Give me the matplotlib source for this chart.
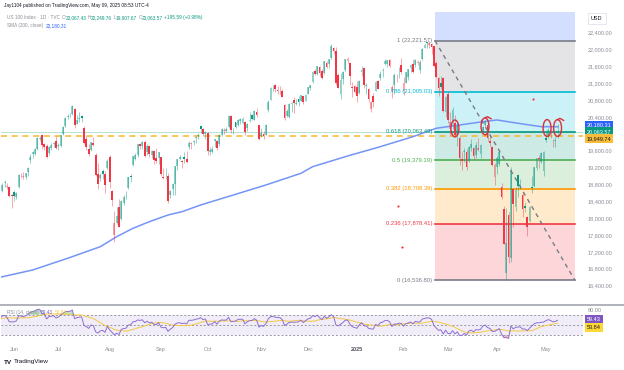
import numpy as np
import matplotlib.pyplot as plt
from matplotlib.patches import Ellipse
from matplotlib.lines import Line2D
from matplotlib import transforms

plt.rcParams['font.family'] = ['Liberation Sans', 'DejaVu Sans']

W, H = 624, 370

# ---------------- data (bar 0 = Jun 3 2024, first visible bar = May 23 2024) ----------------
first_bar = -6
month_ticks = [0, 19, 41, 63, 83, 106, 126, 147, 167, 186, 207, 228]
month_labels = ['Jun', 'Jul', 'Aug', 'Sep', 'Oct', 'Nov', 'Dec', '2025', 'Feb', 'Mar', 'Apr', 'May']

opens = [
    18830, 18650, 18850, 18760, 18750, 18560,
    18620, 18520, 18740, 19040, 18990, 18980, 19100, 19400, 19540, 19530, 19650, 19900, 19980, 19760, 19720, 19550, 19680, 19770, 19840,
    19730, 19720, 20000, 20200, 20410, 20460, 20480, 20600, 20250, 20370, 20430, 20150, 19880, 19660, 19640, 19800, 19520, 19050, 18960, 19120, 19070, 19200,
    19460, 18650, 17620, 17900, 18270, 18000, 18380, 18550, 18720, 19010, 19280, 19420, 19520, 19760, 19720, 19830, 19570, 19730, 19500, 19610, 19450, 19430,
    19460, 18990, 19000, 19020, 18560, 18700, 18830, 19250, 19420, 19360, 19460, 19420, 19700, 19760, 19820, 19920, 19960, 20190, 20120, 20000,
    20030, 19570, 19580, 19850, 19840, 19760, 19990, 20070, 20080, 20170, 20440, 20120, 20290, 20230, 20320, 20280, 20300, 20150, 20310, 20460, 20350, 20520, 20210,
    19970, 20000, 19990, 20570, 20820, 21120, 21170, 21060, 21020, 21040, 20700, 20430, 20400, 20720, 20810, 20720, 20830, 20790, 20900, 20800,
    20960, 21100, 21250, 21510, 21440, 21600, 21500, 21450, 21690, 21670, 21810, 22050, 21980, 21400, 20960, 21320, 21520, 21740, 21700, 21130, 21150,
    21120, 20990, 21470, 21580, 21140, 21080, 20600, 20900, 21040, 21270, 21340, 21500, 21680, 21680, 21770, 21000, 21170, 21400, 21500, 21650,
    21040, 21220, 21370, 21570, 21670, 21640, 21690, 21520, 21780, 22060, 22180, 22110, 22150, 22090, 21700, 21340, 21210, 21330, 20520,
    20960, 20130, 20300, 20270, 19990, 19920, 19420, 19570, 19590, 19360, 19680, 19670, 19520, 19620, 19530, 20050, 20220, 20230, 19850, 19700, 18990,
    19220, 19290, 18740, 18220, 16720, 18090, 17070, 18700, 18280, 19030, 18780, 18550, 18310, 18040, 17950, 18750, 18780, 19190, 19440, 19340, 19120,
    19920, 19930, 19990, 19800, 19850, 20067.43,
]
highs = [
    18910, 18840, 18910, 18850, 18760, 18580,
    18680, 18640, 19050, 19090, 19110, 19090, 19220, 19540, 19600, 19680, 19930, 19950, 20010, 19800, 19780, 19720, 19790, 19830, 19960,
    19800, 19980, 20190, 20400, 20480, 20500, 20690, 20620, 20450, 20520, 20450, 20200, 19960, 19770, 19830, 19940, 19560, 19320, 19090, 19180, 19130, 19420,
    19500, 18690, 18180, 18270, 18470, 18430, 18560, 18650, 18990, 19060, 19480, 19560, 19770, 19800, 19850, 19860, 19780, 19750, 19640, 19640, 19670, 19590,
    19470, 19190, 19200, 19080, 18690, 18840, 19260, 19420, 19510, 19390, 19580, 19610, 19840, 19820, 19870, 19960, 20020, 20220, 20150, 20070,
    20050, 19700, 19730, 19900, 19860, 20010, 20140, 20160, 20170, 20450, 20460, 20160, 20300, 20370, 20390, 20400, 20310, 20270, 20520, 20480, 20580, 20630, 20220,
    20150, 20090, 20250, 20810, 21120, 21170, 21190, 21150, 21150, 21080, 20720, 20600, 20750, 20760, 20890, 20840, 20900, 20930, 20920, 20950,
    21130, 21180, 21500, 21560, 21630, 21630, 21560, 21740, 21740, 21780, 22133, 22070, 22070, 21450, 21450, 21500, 21800, 21830, 21720, 21250, 21180,
    21270, 21300, 21620, 21600, 21230, 21100, 20790, 20970, 21270, 21300, 21500, 21570, 21800, 21770, 21790, 21180, 21460, 21440, 21600, 21810,
    21350, 21480, 21550, 21660, 21780, 21780, 21770, 21760, 22040, 22160, 22190, 22221.57, 22170, 22100, 21730, 21360, 21390, 21370, 20910,
    21030, 20520, 20650, 20450, 20270, 19960, 19580, 19680, 19650, 19720, 19900, 19690, 19830, 19910, 19780, 20200, 20350, 20270, 20000, 19730, 19320,
    19480, 19620, 18850, 18290, 18250, 18160, 19230, 18730, 18750, 19060, 18930, 18620, 18390, 18060, 18310, 19010, 19220, 19440, 19510, 19570, 19610,
    20050, 20140, 20100, 19900, 19950, 20249.76,
]
lows = [
    18520, 18620, 18760, 18700, 18510, 18250,
    18410, 18470, 18720, 18970, 18940, 18950, 19010, 19330, 19430, 19520, 19620, 19840, 19650, 19620, 19440, 19500, 19640, 19710, 19660,
    19620, 19700, 19990, 20170, 20370, 20400, 20460, 20160, 20240, 20290, 20300, 19780, 19620, 19480, 19600, 19720, 19020, 18700, 18890, 18950, 18600, 19170,
    18730, 18310, 17433, 17870, 17790, 17960, 18330, 18470, 18710, 18870, 19240, 19400, 19470, 19650, 19660, 19460, 19520, 19470, 19450, 19300, 19320, 19300,
    19020, 18930, 18930, 18380, 18480, 18560, 18550, 19160, 19390, 19210, 19310, 19310, 19650, 19660, 19750, 19800, 19900, 20030, 19960, 19900,
    19500, 19500, 19550, 19700, 19630, 19720, 19950, 20000, 20050, 20160, 20040, 20000, 20140, 20200, 20240, 20240, 19980, 20080, 20300, 20330, 20330, 20420, 19870,
    19930, 19880, 19990, 20530, 20810, 21040, 21010, 20960, 20960, 20880, 20330, 20400, 20380, 20540, 20500, 20690, 20680, 20780, 20710, 20790,
    20950, 21050, 21230, 21400, 21420, 21390, 21310, 21440, 21570, 21580, 21800, 21900, 21170, 21090, 20850, 21200, 21510, 21690, 21180, 20880, 20970,
    20770, 20960, 21390, 21090, 20950, 20760, 20540, 20640, 21020, 21070, 21280, 21370, 21640, 21600, 21590, 20860, 20960, 21250, 21330, 21430,
    20940, 21210, 21300, 21480, 21450, 21610, 21640, 21450, 21760, 22040, 22050, 22060, 21900, 21590, 21330, 20920, 21080, 20530, 20400,
    20280, 19950, 20130, 19970, 19730, 19280, 19150, 19350, 19150, 19340, 19610, 19390, 19450, 19600, 19440, 20040, 20180, 19840, 19720, 19250, 18800,
    19050, 19260, 18470, 17390, 16536.8, 16950, 16960, 17790, 18190, 18520, 18710, 18030, 18160, 17590, 17920, 18600, 18760, 19150, 19200, 19330, 19010,
    19830, 19910, 19910, 19700, 19700, 19907.67,
]
closes = [
    18600, 18809, 18869, 18766, 18538, 18536,
    18537, 18602, 19037, 19025, 19000, 19075, 19210, 19466, 19577, 19659, 19903, 19908, 19752, 19701, 19473, 19701, 19751, 19789, 19683,
    19751, 19973, 20186, 20392, 20439, 20453, 20675, 20212, 20332, 20388, 20398, 19799, 19701, 19523, 19814, 19755, 19033, 18830, 19023, 19059, 18797, 19362,
    18869, 18440, 17895, 18051, 17806, 18414, 18513, 18551, 18986, 18998, 19475, 19509, 19767, 19720, 19814, 19491, 19720, 19526, 19612, 19381, 19359, 19575,
    19049, 18960, 19015, 18421, 18651, 18830, 19239, 19411, 19457, 19354, 19425, 19336, 19801, 19792, 19841, 19947, 19988, 20134, 19999, 20061,
    19608, 19640, 19655, 19890, 19673, 19983, 20135, 20111, 20132, 20440, 20110, 20135, 20177, 20350, 20361, 20372, 20047, 20249, 20352, 20353, 20551, 20450, 19890,
    20033, 19950, 20212, 20775, 21102, 21118, 21071, 21037, 21036, 20898, 20394, 20558, 20726, 20741, 20740, 20744, 20779, 20922, 20765, 20930,
    21112, 21164, 21491, 21425, 21622, 21455, 21345, 21730, 21588, 21780, 22097, 21972, 21210, 21110, 21289, 21490, 21799, 21798, 21395, 21111, 21013,
    20912, 21268, 21532, 21160, 21170, 20847, 20770, 20757, 21238, 21079, 21441, 21520, 21731, 21759, 21632, 21127, 21414, 21412, 21508, 21478,
    21210, 21470, 21549, 21654, 21491, 21760, 21711, 21719, 22030, 22115, 22176, 22175, 22081, 21614, 21353, 21097, 21132, 20551, 20884,
    20350, 20283, 20570, 19992, 20202, 19431, 19366, 19595, 19225, 19705, 19780, 19483, 19736, 19677, 19754, 20180, 20287, 19917, 19801, 19282, 19279,
    19436, 19581, 18521, 17398, 17431, 17090, 19145, 18342, 18690, 18763, 18787, 18232, 18258, 17809, 18276, 18738, 19213, 19432, 19411, 19546, 19571,
    19864, 20102, 19973, 19791, 19868, 20063.57,
]
# closes before the visible window (Apr 15 - May 22 2024), only used to start the RSI
warmup_closes = [17707, 17707, 17493, 17394, 17037, 17211, 17472, 17527, 17430, 17718, 17782, 17441,
                 17321, 17541, 17891, 18084, 18099, 18101, 18114, 18161, 18197, 18322, 18594, 18558,
                 18546, 18675, 18713, 18706]

# SMA(200)
sma_bars = [-6, 8, 23, 37, 44, 51, 58, 66, 72, 80, 94, 108, 123, 128, 143, 157, 171, 181, 201, 207, 218, 226, 233]
sma_values = [16607, 16780, 17058, 17333, 17570, 17770, 17926, 18085, 18164, 18323, 18560, 18798, 19075,
              19232, 19486, 19707, 19944, 20144, 20300, 20341, 20246, 20182, 20180.31]

# Fibonacci retracement drawing
fib_start, fib_end = 180.5, 240.4
fib_ratios = ['0', '0.236', '0.382', '0.5', '0.618', '0.786', '1', '1.618']
fib_prices = [16536.80, 17878.41, 18708.39, 19379.19, 20063.49, 21005.03, 22221.57, 25734.80]
fib_colors = ['#787b86', '#f23645', '#ff9800', '#4caf50', '#089981', '#00bcd4', '#787b86', '#2962ff']

last_close = 20063.57
sma_last = 20180.31
marked_level = 19949.74
rsi_last, rsi_ma_last = 59.43, 53.84

# hand drawn marks (bar, price) and stray dots
circle_bars = [189.0, 201.9, 228.5, 233.0]
circle_prices = [20140, 20190, 20150, 20150]
circle_tail = [False, True, False, True]
dot_bars = [164.6, 166.3, 222.5]
dot_prices = [18299, 17326, 20839]

price_ticks = [16400, 16800, 17200, 17600, 18000, 18400, 18800, 19200, 19600, 20400, 20800,
               21200, 21600, 22000, 22400]

UP, DOWN = '#089981', '#f23645'

# ---------------- figure ----------------
fig = plt.figure(figsize=(W / 100, H / 100), dpi=100)


def fx(px):
    return px / W


def fy(py):
    return 1 - py / H


ax = fig.add_axes([fx(1), fy(305), fx(583) - fx(1), fy(12) - fy(305)])
axr = fig.add_axes([fx(1), fy(342), fx(583) - fx(1), fy(305) - fy(342)])
for a in (ax, axr):
    for s in a.spines.values():
        s.set_visible(False)
    a.set_xlim(-5.57, 243.9)
    a.set_yticks([])
ax.set_xticks([])
ax.set_ylim(15949, 22904)
axr.set_ylim(16, 90)

# fib zones
for i in range(len(fib_prices) - 1):
    ax.fill_between([fib_start, fib_end], fib_prices[i], fib_prices[i + 1],
                    color=fib_colors[i + 1], alpha=0.2, lw=0, zorder=1)
for i in range(len(fib_prices) - 1):
    ax.plot([fib_start, fib_end], [fib_prices[i]] * 2, color=fib_colors[i], lw=1.2, zorder=2)
    ax.text(fib_start - 1.3, fib_prices[i], f'{fib_ratios[i]} ({fib_prices[i]:,.2f})',
            color=fib_colors[i], fontsize=4.2, ha='right', va='center', zorder=6)
ax.plot([fib_start, fib_end], [fib_prices[-2], fib_prices[0]], color='#787b86', lw=1,
        ls=(0, (3, 3)), zorder=5)

# horizontal lines
ax.axhline(last_close, color=UP, lw=0.6, alpha=0.35, zorder=2)
ax.axhline(marked_level, color='#f5b731', lw=1.1, ls=(0, (4, 3)), zorder=2)

# SMA
ax.plot(sma_bars, sma_values, color='#7594f7', lw=1.1, zorder=3)

# hollow candles: colour from close vs previous close, hollow when close > open
x = np.arange(first_bar, first_bar + len(closes))
o, h, l, c = (np.array(v, float) for v in (opens, highs, lows, closes))
prev = np.concatenate([[warmup_closes[-1]], c[:-1]])
col = np.where(c >= prev, UP, DOWN)
hollow = c > o
ax.vlines(x, l, h, colors=col, lw=0.55, alpha=0.55, zorder=4)
body_lo = np.minimum(o, c)
body_h = np.maximum(np.abs(c - o), 12)
ax.bar(x[hollow], body_h[hollow], bottom=body_lo[hollow], width=0.75,
       color=col[hollow], lw=0, alpha=0.45, zorder=4)
ax.bar(x[~hollow], body_h[~hollow], bottom=body_lo[~hollow], width=0.75,
       color=col[~hollow], lw=0, alpha=1.0, zorder=4)

# hand drawn marks
for bx, by, tail in zip(circle_bars, circle_prices, circle_tail):
    ax.add_patch(Ellipse((bx, by), 3.4, 400, fill=False, ec='#d9303e', lw=1.0, zorder=7))
    if tail:
        ax.plot([bx, bx + 1.0, bx + 2.6], [by + 200, by + 230, by + 180], color='#d9303e', lw=1.0, zorder=7)
ax.scatter(dot_bars, dot_prices, s=2.5, color='#f23645', lw=0, zorder=6)

# right price scale
tr = transforms.blended_transform_factory(fig.transFigure, ax.transData)
for p in price_ticks:
    ax.text(fx(588), p, f'{p:,.2f}', transform=tr, fontsize=4.0, color='#8a8d96',
            ha='left', va='center')
lab = dict(fontsize=4.0, ha='left', va='center')
ax.text(fx(587), sma_last, f'{sma_last:,.2f}', color='white',
        transform=transforms.offset_copy(tr, fig=fig, y=1.5, units='dots'),
        bbox=dict(boxstyle='square,pad=0.3', fc='#2962ff', ec='none'), **lab)
ax.text(fx(587), last_close, f'{last_close:,.2f}', color='white', transform=tr,
        bbox=dict(boxstyle='square,pad=0.3', fc=UP, ec='none'), **lab)
ax.text(fx(587), marked_level, f'{marked_level:,.2f}', color='#131722',
        transform=transforms.offset_copy(tr, fig=fig, y=-2, units='dots'),
        bbox=dict(boxstyle='square,pad=0.3', fc='#f7bd3b', ec='none'), **lab)
fig.text(fx(591), fy(18.5), 'USD', fontsize=4.0, color='#131722', ha='left', va='center',
         bbox=dict(boxstyle='square,pad=0.6', fc='white', ec='#e0e3eb', lw=0.6))

# ---------------- RSI pane ----------------
allc = np.array(warmup_closes + closes, float)
d = np.diff(allc)
gain, loss = np.clip(d, 0, None), np.clip(-d, 0, None)
ag, al = np.full(len(d), np.nan), np.full(len(d), np.nan)
ag[13], al[13] = gain[:14].mean(), loss[:14].mean()
for i in range(14, len(d)):
    ag[i] = (ag[i - 1] * 13 + gain[i]) / 14
    al[i] = (al[i - 1] * 13 + loss[i]) / 14
rsi_all = 100 - 100 / (1 + ag / al)
rsi_ma_all = np.convolve(np.nan_to_num(rsi_all), np.ones(14) / 14, mode='full')[:len(rsi_all)]
rsi = rsi_all[-len(closes):]
rsi_ma = rsi_ma_all[-len(closes):]

axr.axhspan(30, 70, color='#7e57c2', alpha=0.1, lw=0)
for lv in (70, 50, 30):
    axr.axhline(lv, color='#9598a1', lw=0.7, ls=(0, (2, 2)))
axr.fill_between(x, 70, rsi, where=rsi > 70, color='#4caf50', alpha=0.35, lw=0, interpolate=True)
axr.fill_between(x, 30, rsi, where=rsi < 30, color='#f23645', alpha=0.35, lw=0, interpolate=True)
axr.plot(x, rsi_ma, color='#f5c842', lw=0.7)
axr.plot(x, rsi, color='#8e6fd0', lw=0.7)

axr.set_xticks(month_ticks)
axr.set_xticklabels(month_labels)
axr.tick_params(axis='x', length=0, pad=3.5, labelsize=4.0, colors='#8a8d96')
for t in axr.get_xticklabels():
    if t.get_text() == '2025':
        t.set_fontweight('bold')
        t.set_color('#50535e')

trr = transforms.blended_transform_factory(fig.transFigure, axr.transData)
axr.text(fx(588), 80, '80.00', transform=trr, fontsize=4.0, color='#8a8d96', ha='left', va='center')
axr.text(fx(587), rsi_last, f'{rsi_last:.2f}', color='white',
         transform=transforms.offset_copy(trr, fig=fig, y=1, units='dots'),
         bbox=dict(boxstyle='square,pad=0.3', fc='#7e57c2', ec='none'), **lab)
axr.text(fx(587), rsi_ma_last, f'{rsi_ma_last:.2f}', color='#131722',
         transform=transforms.offset_copy(trr, fig=fig, y=-4.5, units='dots'),
         bbox=dict(boxstyle='square,pad=0.3', fc='#fdd835', ec='none'), **lab)

# pane separator
fig.add_artist(Line2D([0, 1], [fy(305), fy(305)], color='#a3a6ae', lw=1.2))

# ---------------- header / legends ----------------
renderer = fig.canvas.get_renderer()


def chain(x_px, y_px, parts, size):
    for s, colr, gap in parts:
        t = fig.text(fx(x_px), fy(y_px), s, color=colr, fontsize=size, ha='left', va='center')
        x_px = t.get_window_extent(renderer=renderer).x1 + gap


fig.text(fx(4), fy(6), 'Jay1104 published on TradingView.com, May 09, 2025 08:53 UTC-4',
         fontsize=3.4, color='#131722', ha='left', va='center')
G = '#8a8d96'
chain(7, 17.5, [('US 100 Index · 1D · TVC', G, 1.5), ('O', G, 0.2), ('20,067.43', UP, 1.2),
                ('H', G, 0.2), ('20,249.76', UP, 1.2), ('L', G, 0.2), ('19,907.67', UP, 1.2),
                ('C', G, 0.2), ('20,063.57', UP, 1.5), ('+195.59 (+0.98%)', UP, 0)], 3.4)
chain(7, 26, [('SMA (200, close)', G, 2.5), ('20,180.31', '#2962ff', 0)], 3.4)
chain(7, 312.5, [('RSI (14, close)', G, 2.0), ('59.43', '#7e57c2', 2.0), ('53.84', '#f5c842', 0)], 3.4)

chain(4, 362, [('TV', '#131722', 1.5), ('TradingView', '#131722', 0)], 4.6)
fig.texts[-2].set_fontweight('bold')

fig.savefig('out.png', dpi=100)
